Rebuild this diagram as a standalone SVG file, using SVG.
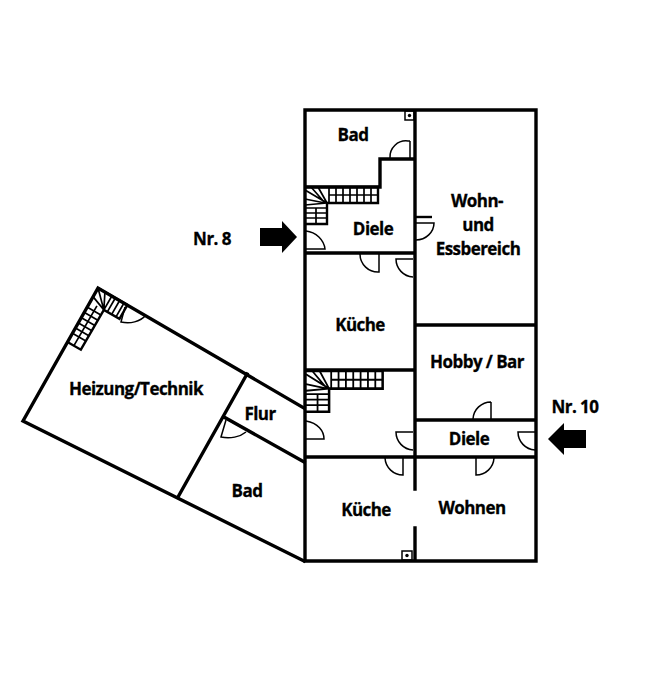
<svg xmlns="http://www.w3.org/2000/svg" width="665" height="690" viewBox="0 0 665 690">
<style>
.w{fill:none;stroke:#000;stroke-width:3.4;stroke-linecap:square;stroke-linejoin:miter}
.t{fill:none;stroke:#000;stroke-width:2.4;stroke-linejoin:miter}
.s{fill:none;stroke:#000;stroke-width:1.7}
.d{fill:none;stroke:#000;stroke-width:1.5}
text{font-family:"Open Sans","Noto Sans","Liberation Sans",sans-serif;font-weight:700;font-size:17px;fill:#000;stroke:#000;stroke-width:.3;text-anchor:middle;letter-spacing:-.55px}
</style>
<defs>
<g id="stair">
<path class="t" d="M0,0H73V16H22V37H0"/>
<path class="s" d="M24,8H73M24,0V16M31,0V16M38,0V16M45,0V16M52,0V16M59,0V16M66,0V16"/>
<path class="s" d="M0,21H22M0,26H22M0,31H22M11,21V37M0,3L22,16M6,0L20,16M0,12L20,16M0,18L22,16M13,0L22,16"/>
</g>
</defs>
<rect width="665" height="690" fill="#fff"/>
<g id="connectors">
<path class="w" d="M305,110H536V561H305ZM415,110V489M415,528V561M305,253H415M305,370H415M415,325H536M415,420H536M305,457H536M415,159H380V187H305"/>
<path class="w" d="M304,408L98,288L23,421L304,561M247,374L178,497M224,417L304,462"/>
</g>
<g id="stairs-nr8"><use href="#stair" transform="translate(305,187)"/></g>
<g id="stairs-nr10"><use href="#stair" transform="translate(306,371) scale(1.05,1.1)"/></g>
<g id="stairs-wing" transform="translate(98,288) rotate(30)">
<path class="t" d="M0,0H34V16H16V62H0"/>
<path class="s" d="M16,0V16M20,0V16M25,0V16M30,0V16M8,16V62M0,22H16M0,28H16M0,34H16M0,40H16M0,46H16M0,52H16M0,0L16,16M8,0L16,16M0,10L16,16"/>
</g>
<g id="doors">
<path class="d" d="M410,141V159M410,141H408A16,16 0 0 0 390,158"/>
<path class="d" d="M306,231C316,232 324,240 325,249H306"/>
<path class="d" d="M379,254V272A18,18 0 0 1 360,254"/>
<path class="d" d="M413,259H396A18,18 0 0 0 413,277"/>
<path class="d" d="M416,223H434C434,232 426,240 416,240"/>
<path class="t" d="M416,217H432"/>
<path class="d" d="M491,402V419M491,402A18,18 0 0 0 473,419"/>
<path class="d" d="M413,432H396A18,18 0 0 0 413,450"/>
<path class="d" d="M535,432H518A18,18 0 0 0 535,450"/>
<path class="d" d="M403,458V475A18,18 0 0 1 385,458"/>
<path class="d" d="M476,458V475A18,18 0 0 0 494,458"/>
<path class="d" d="M306,421C318,423 324,431 324,439H306"/>
<path class="d" d="M125,307L121,322C130,324 140,322 146,315"/>
<path class="d" d="M226,420L221,437C230,439 240,437 246,432"/>
</g>
<g id="shafts">
<rect class="d" x="405" y="111" width="9" height="9"/><circle cx="409.500" cy="115.500" r="1.700"/>
<rect class="d" x="402" y="551" width="10" height="9"/><circle cx="407" cy="555.500" r="1.700"/>
</g>
<g id="arrow-nr8"><path d="M260,228H282V221L297,237L282,253V246H260Z"/></g>
<g id="arrow-nr10"><path d="M586,430H564V423L548,439L564,455V448H586Z"/></g>
<g id="label-nr8"><text x="212" y="245">Nr. 8</text></g>
<g id="label-nr10"><text x="575" y="413">Nr. 10</text></g>
<g id="room-bad1"><text x="353" y="141">Bad</text></g>
<g id="room-diele1"><text x="373" y="235">Diele</text></g>
<g id="room-wohn"><text x="477" y="207">Wohn-</text><text x="478" y="231">und</text><text x="478" y="255">Essbereich</text></g>
<g id="room-kueche1"><text x="360" y="331">Küche</text></g>
<g id="room-hobby"><text x="477" y="368">Hobby / Bar</text></g>
<g id="room-diele2"><text x="469" y="445">Diele</text></g>
<g id="room-kueche2"><text x="366" y="516">Küche</text></g>
<g id="room-wohnen"><text x="472" y="514">Wohnen</text></g>
<g id="room-heizung"><text x="136" y="395">Heizung/Technik</text></g>
<g id="room-flur"><text x="260" y="420">Flur</text></g>
<g id="room-bad2"><text x="247" y="497">Bad</text></g>
</svg>
